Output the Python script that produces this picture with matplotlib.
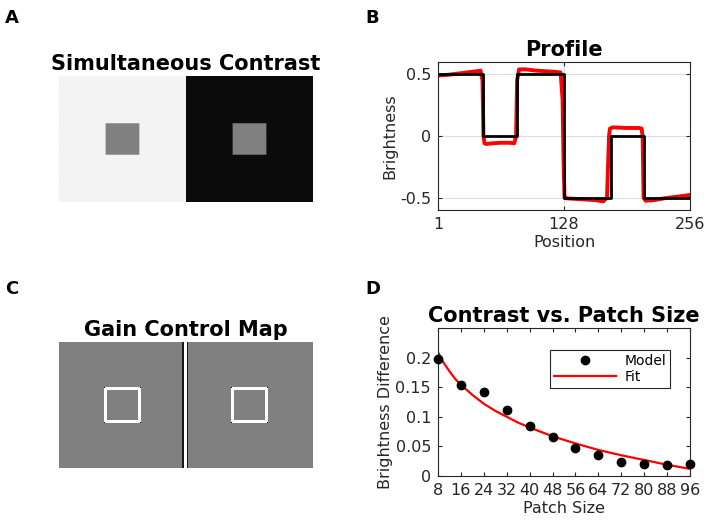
import matplotlib
matplotlib.use('Agg')
import matplotlib.pyplot as plt
import numpy as np

plt.rcParams['font.family'] = ['DejaVu Sans']
plt.rcParams['axes.unicode_minus'] = False

# ---- data ----
IMG_H, IMG_W = 128, 256
PATCH_ROWS = (48, 80)
PATCH_COLS_L = (47, 81)
PATCH_COLS_R = (175, 209)
BG_LEFT, BG_RIGHT, PATCH_VAL = 0.5, -0.5, 0.0

# gain control map levels
GAIN_BG, GAIN_EDGE, GAIN_CORNER = 0.5, 1.0, 0.05
EDGE_W = 3
SEAM_DARK_COLS = [124, 125, 129]
SEAM_WHITE_COLS = [126, 127, 128]

# profile: ideal stimulus (black) and model output (red)
stim_x = [1, 47, 47, 81, 81, 128, 128, 176, 176, 209, 209, 256]
stim_y = [0.5, 0.5, 0, 0, 0.5, 0.5, -0.5, -0.5, 0, 0, -0.5, -0.5]

model_x = [1, 10, 20, 30, 40, 44, 46, 47, 48, 50, 55, 64, 74, 78, 80, 81, 83, 90,
           100, 110, 120, 125, 127, 128, 129, 130, 140, 150, 160, 168, 172, 174,
           175, 178, 192, 204, 207, 208, 209, 211, 220, 230, 240, 250, 256]
model_y = [0.49, 0.495, 0.505, 0.515, 0.525, 0.53, 0.45, 0.0, -0.06, -0.065, -0.06,
           -0.055, -0.055, -0.06, 0.0, 0.45, 0.54, 0.54, 0.53, 0.525, 0.52, 0.515,
           0.3, -0.2, -0.5, -0.505, -0.51, -0.515, -0.52, -0.53, -0.5, 0.0, 0.06,
           0.07, 0.065, 0.065, 0.06, 0.0, -0.5, -0.525, -0.52, -0.505, -0.495,
           -0.485, -0.478]

# contrast vs patch size
patch_size = [8, 16, 24, 32, 40, 48, 56, 64, 72, 80, 88, 96]
model_diff = [0.198, 0.153, 0.142, 0.111, 0.084, 0.066, 0.047, 0.036, 0.024,
              0.020, 0.018, 0.021]
fit_x = [8, 10, 12, 14, 16, 20, 24, 28, 32, 36, 40, 48, 56, 64, 72, 80, 88, 96]
fit_y = [0.209, 0.191, 0.177, 0.164, 0.154, 0.137, 0.122, 0.110, 0.100, 0.090,
         0.082, 0.067, 0.055, 0.044, 0.035, 0.027, 0.019, 0.012]

AX_COL = '#262626'
TITLE_FS = 15

# ---- build images ----
stim = np.full((IMG_H, IMG_W), BG_LEFT)
stim[:, IMG_W // 2:] = BG_RIGHT
r0, r1 = PATCH_ROWS
for c0, c1 in (PATCH_COLS_L, PATCH_COLS_R):
    stim[r0:r1, c0:c1] = PATCH_VAL

gain = np.full((IMG_H, IMG_W), GAIN_BG)
w = EDGE_W
for c0, c1 in (PATCH_COLS_L, PATCH_COLS_R):
    gain[r0 - 2:r1 + 2, c0 - 2:c0 - 2 + w] = GAIN_EDGE
    gain[r0 - 2:r1 + 2, c1 + 2 - w:c1 + 2] = GAIN_EDGE
    gain[r0 - 2:r0 - 2 + w, c0 - 2:c1 + 2] = GAIN_EDGE
    gain[r1 + 2 - w:r1 + 2, c0 - 2:c1 + 2] = GAIN_EDGE
    for rr in (r0 - 2, r1 + 1):
        for cc in (c0 - 2, c1 + 1):
            gain[rr, cc] = GAIN_CORNER
gain[:, SEAM_DARK_COLS] = 0.1
gain[:, SEAM_WHITE_COLS] = 1.0

fig = plt.figure(figsize=(7.06, 5.2), dpi=100)

# A
axA = fig.add_axes([0.0836, 0.6115, 0.3584, 0.2423])
axA.imshow(stim, cmap='gray', vmin=-0.55, vmax=0.55, aspect='auto',
           interpolation='bilinear')
axA.axis('off')
axA.set_title('Simultaneous Contrast', fontsize=TITLE_FS, fontweight='bold', pad=4)

# B
axB = fig.add_axes([0.6204, 0.5962, 0.357, 0.2846])
axB.plot(model_x, model_y, color='red', lw=2.8, solid_joinstyle='round')
axB.plot(stim_x, stim_y, color='black', lw=2.0)
axB.set_xlim(1, 256)
axB.set_ylim(-0.6, 0.6)
axB.set_xticks([1, 128, 256])
axB.set_yticks([-0.5, 0, 0.5])
axB.set_yticklabels(['-0.5', '0', '0.5'])
axB.grid(True, color='#dddddd', lw=0.8)
axB.set_axisbelow(True)
axB.set_xlabel('Position', fontsize=11.5, color=AX_COL, labelpad=2)
axB.set_ylabel('Brightness', fontsize=11.5, color=AX_COL, labelpad=2)
axB.set_title('Profile', fontsize=TITLE_FS, fontweight='bold', pad=4)

# C
axC = fig.add_axes([0.0836, 0.1, 0.3584, 0.2423])
axC.imshow(gain, cmap='gray', vmin=0, vmax=1, aspect='auto',
           interpolation='nearest')
axC.axis('off')
axC.set_title('Gain Control Map', fontsize=TITLE_FS, fontweight='bold', pad=4)

# D
axD = fig.add_axes([0.6204, 0.0846, 0.357, 0.2846])
axD.plot(patch_size, model_diff, 'o', color='black', ms=6, label='Model',
         clip_on=False, zorder=3)
axD.plot(fit_x, fit_y, color='red', lw=1.6, label='Fit')
axD.set_xlim(8, 96)
axD.set_ylim(0, 0.25)
axD.set_xticks(patch_size)
axD.set_yticks([0, 0.05, 0.1, 0.15, 0.2])
axD.set_yticklabels(['0', '0.05', '0.1', '0.15', '0.2'])
axD.set_xlabel('Patch Size', fontsize=11.5, color=AX_COL, labelpad=2)
axD.set_ylabel('Brightness Difference', fontsize=11.5, color=AX_COL, labelpad=2)
axD.set_title('Contrast vs. Patch Size', fontsize=TITLE_FS, fontweight='bold', pad=4)
leg = axD.legend(loc='upper right', bbox_to_anchor=(0.95, 0.9), fontsize=10,
                 frameon=True, fancybox=False, framealpha=1, edgecolor=AX_COL,
                 handlelength=4.5, borderpad=0.3, labelspacing=0.15,
                 handletextpad=0.6)
leg.get_frame().set_linewidth(0.8)

for ax in (axB, axD):
    ax.tick_params(direction='in', length=3, labelsize=11.5, colors=AX_COL,
                   top=True, right=True, pad=5)
    for s in ax.spines.values():
        s.set_color(AX_COL)
        s.set_linewidth(0.8)

# panel letters
for lbl, x, y in (('A', 0.007, 0.982), ('B', 0.518, 0.982),
                  ('C', 0.007, 0.462), ('D', 0.518, 0.462)):
    fig.text(x, y, lbl, fontsize=13, fontweight='bold', va='top', ha='left')

fig.savefig('out.png', dpi=100)
